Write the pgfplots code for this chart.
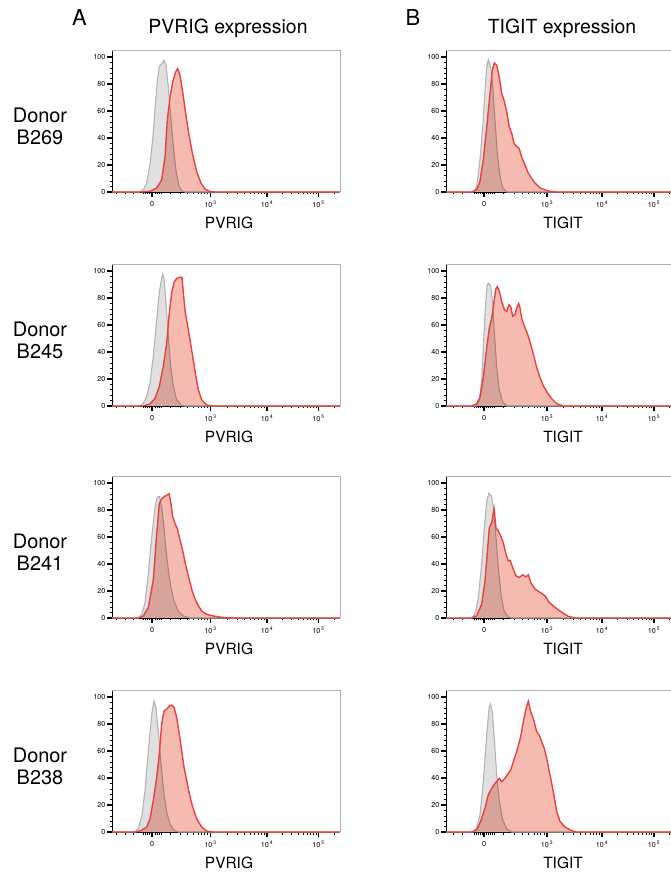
\documentclass[border=0pt]{standalone}
\usepackage{pgfplots}
\pgfplotsset{compat=1.18}
\usepackage{fontspec}
\setmainfont{TeX Gyre Heros}
\definecolor{redline}{HTML}{E8413F}
\definecolor{redfill}{HTML}{F5BAB0}
\definecolor{greyfill}{HTML}{E0E0E0}
\definecolor{greyline}{HTML}{B4B4B4}
\pgfplotsset{
  flow/.style={
    scale only axis, height=142bp, ymin=0, ymax=105.2,
    anchor=south west, clip=false,
    axis lines=left, axis line style={-, black, line width=0.7pt},
    ytick={0,20,...,100}, minor y tick num=4,
    tick align=outside,
    major tick length=5bp, minor tick length=2.5bp,
    every major tick/.style={black, line width=1.4pt},
    every minor tick/.style={black, line width=0.6pt},
    yticklabel style={font=\fontsize{7.2}{8}\selectfont, inner sep=1.5bp},
    xticklabel style={font=\fontsize{7.2}{8}\selectfont, inner sep=1.5bp, yshift=-2.5bp},
    /pgf/number format/assume math mode=true,
    xticklabels={0,10\,\textsuperscript{3},10\,\textsuperscript{4},10\,\textsuperscript{5}},
    xlabel style={font=\fontsize{15.5}{16}\selectfont, anchor=north, inner sep=0pt},
  },
  leftcol/.style={flow, xmin=112, xmax=340, width=228bp,
    xtick={152,210.5,267,318.5},
    minor xtick={116,125,133,143,145,147,149,155,157,159,161,170,180,187,193,198,201,204,207,
      227.5,237.5,244.5,250,254.5,258.2,261.5,264.4,
      282.5,291.6,298,303,307.1,310.5,313.5,316.1,334},
    xlabel={PVRIG}, xlabel style={at={(axis cs:229,0)}, yshift=-25bp}},
  rightcol/.style={flow, xmin=446, xmax=678, width=232bp,
    xtick={484,547,602,654},
    minor xtick={453,462,474,476,478,480,482,486,488,490,492,494,503,514,522,528,534,537,540,544,
      563.6,573.2,580.1,585.4,589.8,593.5,596.7,599.5,
      617.7,626.8,633.3,638.3,642.5,645.9,649,651.6,669.7},
    xlabel={TIGIT}, xlabel style={at={(axis cs:563,0)}, yshift=-25bp}},
}
\newcommand{\flowplots}[2]{%
  \addplot[draw=none, fill=greyfill] coordinates {#1} \closedcycle;
  \addplot[greyline, line width=1.1pt] coordinates {#1};
  \addplot[draw=none, fill=redfill, blend mode=multiply] coordinates {#2} \closedcycle;
  \addplot[redline, line width=1.4pt] coordinates {#2};
  \draw[gray!60, line width=0.7pt] (rel axis cs:0,1) -- (rel axis cs:1,1) -- (rel axis cs:1,0);
}
\newcommand{\rowlabel}[2]{%
  \node[font=\fontsize{20}{22}\selectfont, anchor=base] at (40bp,#1bp+69bp) {Donor};
  \node[font=\fontsize{20}{22}\selectfont, anchor=base] at (40bp,#1bp+47bp) {#2};
}
\begin{document}
\begin{tikzpicture}
\path[use as bounding box, clip] (0,0) rectangle (671bp,873bp);
\node[font=\fontsize{22}{24}\selectfont, anchor=base] at (79.5bp,847bp) {A};
\node[font=\fontsize{19.5}{21}\selectfont, anchor=base] at (228bp,839bp) {PVRIG expression};
\node[font=\fontsize{22}{24}\selectfont, anchor=base] at (413bp,847bp) {B};
\node[font=\fontsize{19.5}{21}\selectfont, anchor=base] at (562bp,839bp) {TIGIT expression};
\rowlabel{681}{B269}
\rowlabel{467}{B245}
\rowlabel{255}{B241}
\rowlabel{41}{B238}
% Row 1
\begin{axis}[leftcol, at={(112bp,681bp)}]
\flowplots{(112,0) (138.3,0) (143.3,1.7) (146.7,6.6) (150,21) (152.7,39) (155,61) (157.3,83) (159.3,93) (161.7,95) (164,97.5) (166,94) (168.3,78) (170.7,56) (173.3,34) (176,16) (178.7,5) (181.7,1) (185,0) (340,0)}
{(112,0) (141.7,0) (150,0.5) (156.7,3) (161.7,9) (165,26) (167.3,53) (170,70.5) (172.7,81.5) (175.7,89) (177.7,91.4) (180,86.5) (182.7,74) (185.7,58) (188.7,43.5) (192.3,29) (196.7,15) (201,6.6) (205,2.2) (209.3,0.5) (215,0) (340,0)}
\end{axis}
\begin{axis}[rightcol, at={(446bp,681bp)}]
\flowplots{(446,0) (473.3,0) (476.7,4) (480,24) (482.7,48) (485,75.4) (486.7,92.6) (488.3,98) (490.7,92.6) (492.7,78) (495,53) (497.3,29) (500,11.5) (502.7,3) (506.7,0) (678,0)}
{(446,0) (471.7,0) (476.7,1.7) (480,8) (483.3,24) (486.7,48) (490,73) (492.3,90) (494.3,95.6) (496.7,94) (499.3,85) (501.7,73) (504,68) (506.7,59.5) (509.3,48) (511.7,43.5) (514,36) (516.7,33.7) (519,32.4) (521.7,26) (525,20) (528.3,14) (533.3,8) (540,3) (548.3,0.7) (556.7,0) (678,0)}
\end{axis}
% Row 2
\begin{axis}[leftcol, at={(112bp,467bp)}]
\flowplots{(112,0) (140,0) (143.3,2) (146.7,7) (150,17) (153.3,37) (156.7,64) (159.3,84) (161.7,95) (162.7,97.8) (164,94) (166,76.6) (168.3,51.7) (170.7,29.4) (173.3,14.4) (176.7,4.5) (181.7,0.2) (185,0) (340,0)}
{(112,0) (143.3,0) (150,1.5) (155,5.7) (159.3,14.4) (163.3,29.4) (166.7,46.8) (169.3,69) (171.7,84) (174,91.5) (176.7,94.5) (180,95.3) (182,95.3) (183.3,84) (185.3,69) (187.7,59) (190,49) (192.7,36.8) (195.3,24.4) (198.3,12) (201.7,4.5) (206.7,0.7) (213.3,0) (340,0)}
\end{axis}
\begin{axis}[rightcol, at={(446bp,467bp)}]
\flowplots{(446,0) (476.7,0) (479.3,4) (481.7,19) (483.3,43) (485.3,72.6) (487,88.5) (488.3,91) (490.7,89) (492.7,75) (494.7,50.6) (496.7,28.6) (499.3,11.5) (502.7,3) (506.7,0) (678,0)}
{(446,0) (471.7,0) (476.7,1.7) (480,6.6) (483.3,21) (486.7,43) (489.3,58) (491.7,65) (494,77.5) (496,87) (497.3,88.5) (499.3,85) (501.7,77.5) (504.3,71.4) (506.7,70) (509,75) (510.7,73.6) (512.7,66.5) (515,67.7) (516.7,72.6) (518.7,76) (520,72.6) (522,64) (525,58) (527.7,53) (530.7,45.7) (533.3,38.4) (536.7,28.6) (540,21) (543.3,15) (547.3,10) (551.7,5.4) (556.7,1.7) (563.3,0) (678,0)}
\end{axis}
% Row 3
\begin{axis}[leftcol, at={(112bp,255bp)}]
\flowplots{(112,0) (138.3,0) (141.7,2.7) (145,11) (148.3,33) (151.7,60) (155,82) (157.3,89.7) (159.3,90) (161.7,82) (164,67.6) (166,50.5) (168.3,35.8) (170.7,23.5) (174,12.5) (178.3,5) (183.3,1.5) (190,0) (340,0)}
{(112,0) (138.3,0) (143.3,1.5) (148.3,7.6) (153.3,28.4) (156.7,62.7) (159.3,84.8) (161.7,88.5) (164,89.7) (166.7,91) (169,92) (170.7,86) (172.7,75) (175,70) (177.3,66.2) (180,57.8) (183.3,48) (186,38) (189.3,28.4) (192.7,18.6) (196.7,11.3) (201.7,5.1) (206.7,2.7) (213.3,1.5) (221.7,0.5) (233.3,0) (340,0)}
\end{axis}
\begin{axis}[rightcol, at={(446bp,255bp)}]
\flowplots{(446,0) (471.7,0) (475,3) (478.3,15) (481.7,40) (484.3,66.8) (486.7,86.5) (489,92.6) (491.7,90) (494,79) (496,59.5) (498.3,37.3) (501,17.7) (504,5.4) (508.3,0.5) (511.7,0) (678,0)}
{(446,0) (471.7,0) (476.7,1.7) (481.7,10.3) (485,27.5) (487.7,52) (489.3,66.8) (491.7,70.5) (494,81) (496,66.8) (498.3,64.4) (500.7,60.7) (503.3,55.8) (506,47.2) (508.3,42.3) (510,42.8) (512.7,37.3) (516,31.2) (519.3,30) (522.7,32) (526,30.5) (528.3,32) (530.7,26.3) (535,21.4) (540,19) (545,16.5) (549.3,11.5) (555,7.9) (561.7,4.2) (568.3,1.2) (575,0) (678,0)}
\end{axis}
% Row 4
\begin{axis}[leftcol, at={(112bp,41bp)}]
\flowplots{(112,0) (135,0) (138.3,2.5) (141.7,11) (145,30.7) (148.3,60) (151.7,87) (154,97) (156,92) (158.3,75) (161,50.4) (164,28.3) (166.7,14.7) (170,6) (174,1.2) (178.3,0) (340,0)}
{(112,0) (135,0) (141.7,1.2) (146.7,3.7) (150,9.8) (153.3,23.3) (156.7,40.5) (159.3,57.7) (161.7,80) (164,89.7) (166.7,91) (169.3,93.4) (171.7,94) (174,92.6) (176.7,84.8) (179.3,72.5) (181.7,60) (184,48) (186.7,38) (189.3,28.3) (192.7,18.4) (196.7,9.8) (201.7,3.7) (206.7,0.7) (213.3,0) (340,0)}
\end{axis}
\begin{axis}[rightcol, at={(446bp,41bp)}]
\flowplots{(446,0) (473.3,0) (476.7,3) (480,12.8) (483.3,37.3) (486.7,71.7) (489,91.4) (490.3,95) (492.3,89) (494.3,69.3) (496.7,42.3) (499.3,22.6) (502.7,9) (506.7,2.2) (511.7,0) (678,0)}
{(446,0) (471.7,0) (476.7,1.7) (480.7,7.9) (485,17.7) (488.3,27.5) (491.7,32.4) (495,36) (499.3,39.8) (501.7,37.3) (505,39.8) (508.3,43.5) (510.7,46) (513.3,52) (516.7,59.5) (519.3,66.8) (521,71.7) (523.3,81.6) (526,91.4) (528.3,96.8) (530.7,89) (533.3,84) (536.7,74.2) (539.3,71.7) (541.7,66.8) (544.3,62) (546.7,54.5) (550,42.3) (553.3,30) (556.7,15.2) (560,7.9) (565,3.7) (571.7,1) (576.7,0) (678,0)}
\end{axis}
\end{tikzpicture}
\end{document}
